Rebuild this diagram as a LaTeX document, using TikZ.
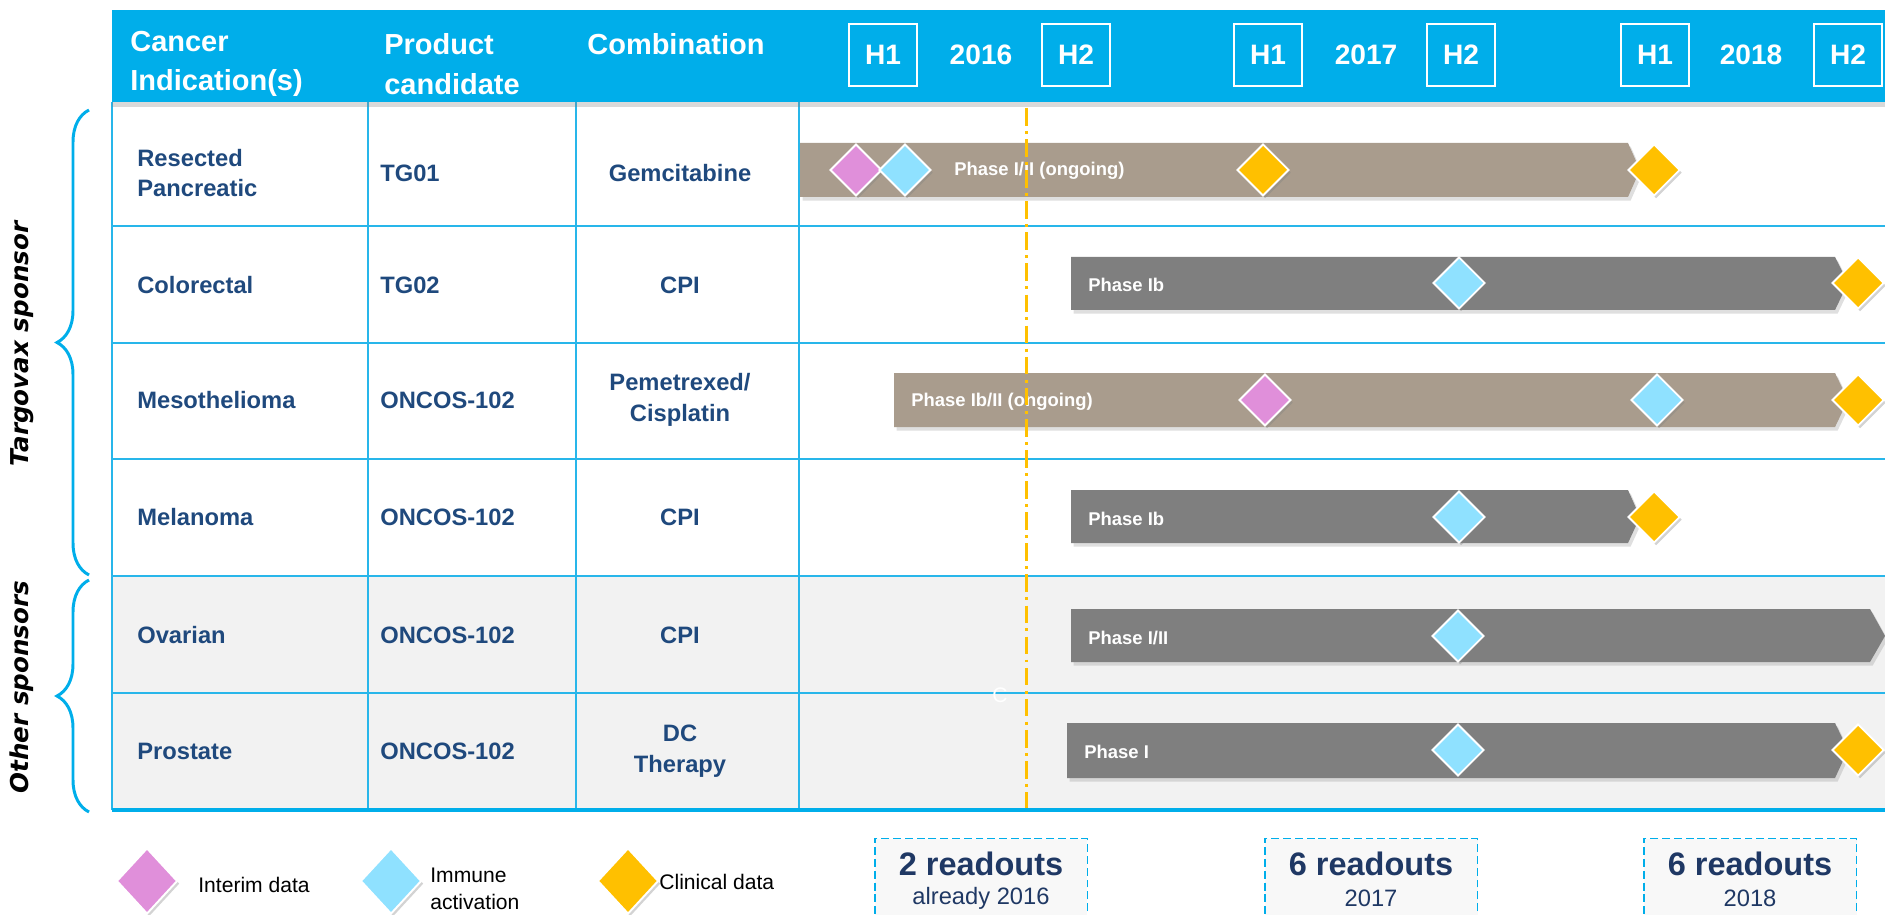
\documentclass[tikz,border=0pt]{standalone}
\usepackage{fontspec}
\setmainfont{Liberation Sans}
\newfontfamily\sidefont{DejaVu Sans}
\usetikzlibrary{shapes.geometric,shadows,decorations.pathreplacing}

\definecolor{hdrblue}{RGB}{0,174,234}
\definecolor{gridblue}{RGB}{40,182,234}
\definecolor{txtblue}{RGB}{31,73,125}
\definecolor{navy}{RGB}{31,56,100}
\definecolor{rowgray}{RGB}{242,242,242}
\definecolor{boxgray}{RGB}{248,248,248}
\definecolor{tanbar}{RGB}{169,156,141}
\definecolor{graybar}{RGB}{127,127,127}
\definecolor{pinkd}{RGB}{224,143,218}
\definecolor{cyand}{RGB}{143,225,255}
\definecolor{oranged}{RGB}{255,192,0}

\tikzset{
  gridline/.style={gridblue, line width=0.9pt},
  hdr/.style={text=white, font=\fontsize{16.5}{22.5}\selectfont\bfseries, align=left, anchor=west, inner sep=0pt},
  hbox/.style={draw=white, line width=0.9pt, minimum width=1.36cm, minimum height=1.24cm, text=white, font=\fontsize{16}{16}\selectfont\bfseries},
  yr/.style={text=white, font=\fontsize{16}{16}\selectfont\bfseries},
  cell/.style={text=txtblue, font=\fontsize{13.5}{17.5}\selectfont\bfseries, align=left, anchor=west, inner sep=0pt},
  combo/.style={text=txtblue, font=\fontsize{13.5}{17.5}\selectfont\bfseries, align=center, inner sep=0pt},
  bar/.style={drop shadow={opacity=0.25, shadow xshift=1.5pt, shadow yshift=-2pt}},
  phase/.style={text=white, font=\fontsize{10.5}{10.5}\selectfont\bfseries, anchor=west, inner sep=0pt},
  gem/.style={diamond, draw=white, line width=1.1pt, inner sep=0pt, minimum width=1.04cm, minimum height=1.04cm,
    drop shadow={opacity=0.35, shadow xshift=1.2pt, shadow yshift=-1.5pt}},
  biggem/.style={gem, minimum width=1.22cm, minimum height=1.32cm},
  legend/.style={text=black, font=\fontsize{12}{15.3}\selectfont, align=left, anchor=west, inner sep=0pt},
  readbox/.style={draw=hdrblue, fill=boxgray, dash pattern=on 4.5pt off 2.2pt, line width=1.1pt, minimum width=4.26cm, minimum height=1.9cm},
  readbig/.style={text=navy, font=\fontsize{18.5}{18.5}\selectfont\bfseries},
  readsmall/.style={text=navy, font=\fontsize{13.5}{13.5}\selectfont},
  side/.style={text=black, font=\sidefont\fontsize{14}{14}\selectfont\bfseries\itshape, rotate=90},
  bracket/.style={hdrblue, line width=1.7pt, decorate, decoration={brace, amplitude=0.64cm}}
}

\begin{document}
\begin{tikzpicture}[x=0.02cm, y=-0.02cm]
\clip (0,0) rectangle (1885,915);

% table body
\fill[rowgray] (112,576) rectangle (1885,810);
\foreach \y in {226,343,459,576,693}
	\draw[gridline] (112,\y) -- (1885,\y);
\foreach \x in {112,368,576,799}
	\draw[gridline] (\x,102) -- (\x,810);
\draw[hdrblue, line width=2.8pt] (112,810) -- (1885,810);

% header band
\fill[hdrblue, drop shadow={opacity=0.3, shadow xshift=0pt, shadow yshift=-3pt}] (112,10) rectangle (1885,102);
\node[hdr] (hind) at (130,64) {Cancer\\Indication(s)};
\node[hdr] (hprod) at (384,64) {Product\\candidate};
\node[hdr] (hcomb) at (587,44) {Combination};

\foreach \x/\t [count=\i] in {883/H1,1076/H2,1268/H1,1461/H2,1655/H1,1848/H2}
	\node[hbox] (h\i) at (\x,55) {\t};
\node[yr] (y16) at (981,55) {2016};
\node[yr] (y17) at (1366,55) {2017};
\node[yr] (y18) at (1751,55) {2018};

% table cells
\foreach \y/\ind/\prod/\comb [count=\r] in {
	173/{Resected\\Pancreatic}/TG01/Gemcitabine,
	285/Colorectal/TG02/CPI,
	400/Mesothelioma/ONCOS-102/{Pemetrexed/\\Cisplatin},
	517/Melanoma/ONCOS-102/CPI,
	635/Ovarian/ONCOS-102/CPI,
	751/Prostate/ONCOS-102/{DC\\Therapy}}
{
	\node[cell] (ind\r) at (137,\y) {\ind};
	\node[cell] (prod\r) at (380,\y) {\prod};
	\node[combo] (comb\r) at (680,\y) {\comb};
}

% phase bars
\fill[tanbar, bar] (800,143) -- (1628,143) -- (1640,170) -- (1628,197) -- (800,197) -- cycle;
\fill[graybar, bar] (1071,257) -- (1835,257) -- (1848,283) -- (1835,310) -- (1071,310) -- cycle;
\fill[tanbar, bar] (894,373) -- (1835,373) -- (1848,400) -- (1835,427) -- (894,427) -- cycle;
\fill[graybar, bar] (1071,490) -- (1628,490) -- (1640,517) -- (1628,543) -- (1071,543) -- cycle;
\fill[graybar, bar] (1071,609) -- (1870,609) -- (1885,636) -- (1870,662) -- (1071,662) -- cycle;
\fill[graybar, bar] (1067,723) -- (1835,723) -- (1848,750) -- (1835,778) -- (1067,778) -- cycle;

\node[phase] (ph1) at (954,171) {Phase I/II (ongoing)};
\node[phase] (ph2) at (1088,285) {Phase Ib};
\node[phase] (ph3) at (911,402) {Phase Ib/II (ongoing)};
\node[phase] (ph4) at (1088,519) {Phase Ib};
\node[phase] (ph5) at (1088,638) {Phase I/II};
\node[phase] (ph6) at (1084,752) {Phase I};

% today line
\draw[oranged, line width=1.7pt, dash pattern=on 10pt off 3pt on 1.7pt off 3pt] (1026,108) -- (1026,808);
\node[text=white, font=\fontsize{12}{12}\selectfont, inner sep=0pt] (cmark) at (1000,695) {C};

% readouts in the bars
\foreach \x/\y/\c [count=\i] in {856/170/pinkd, 905/170/cyand, 1263/170/oranged, 1654/170/oranged,
	1459/283/cyand, 1858/283/oranged,
	1265/400/pinkd, 1657/400/cyand, 1858/400/oranged,
	1459/517/cyand, 1654/517/oranged,
	1458/636/cyand,
	1458/750/cyand, 1858/750/oranged}
	\node[gem, fill=\c] (g\i) at (\x,\y) {};

% sponsor braces
\draw[bracket] (89,575) -- (89,110);
\draw[bracket] (89,812) -- (89,580);
\node[side] (tsp) at (22,344) {Targovax sponsor};
\node[side] (osp) at (22,687) {Other sponsors};

% legend
\node[biggem, fill=pinkd] (lg1) at (147,881) {};
\node[legend] (lt1) at (198,885) {Interim data};
\node[biggem, fill=cyand] (lg2) at (391,881) {};
\node[legend] (lt2) at (430,889) {Immune\\activation};
\node[biggem, fill=oranged] (lg3) at (628,881) {};
\node[legend] (lt3) at (659,882) {Clinical data};

% readout counts
\foreach \x/\n/\s [count=\i] in {981/2/already 2016, 1371/6/2017, 1750/6/2018}
{
	\node[readbox] (box\i) at (\x,886) {};
	\node[readbig] (cnt\i) at (\x,864) {\n{} readouts};
	\node[readsmall] (yr\i) at (\x,898) {\s};
}

\end{tikzpicture}
\end{document}
